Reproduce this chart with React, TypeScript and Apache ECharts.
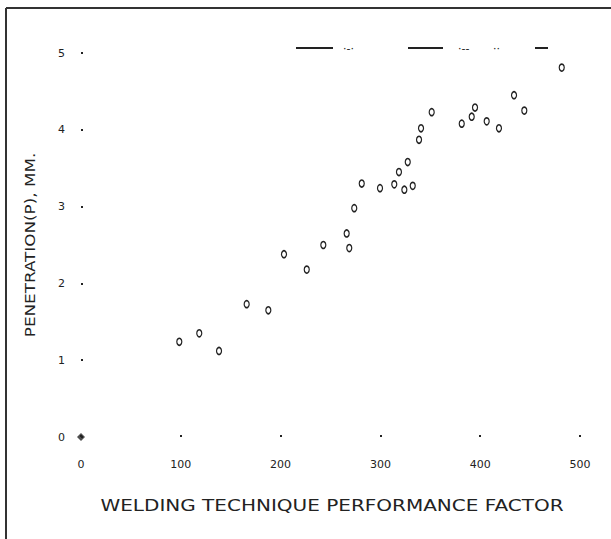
import React, { useEffect, useRef } from "react";
import * as echarts from "echarts";

const performanceFactor: number[] = [
  98.5, 118.5, 138.3, 166, 187.7, 203.4, 226.2, 242.8, 266.2, 268.8, 273.8, 281.3,
  299.6, 313.9, 318.6, 327.4, 324, 332.4, 338.7, 340.7, 351.4, 381.5, 391.5, 394.8,
  406.5, 418.8, 433.9, 444.2, 481.7,
];
const penetrationMM: number[] = [
  1.24, 1.35, 1.12, 1.73, 1.65, 2.38, 2.18, 2.5, 2.65, 2.46, 2.98, 3.3,
  3.24, 3.29, 3.45, 3.58, 3.22, 3.27, 3.87, 4.02, 4.23, 4.08, 4.17, 4.29,
  4.11, 4.02, 4.45, 4.25, 4.81,
];
const originMark: number[][] = [[0, 0]];
const xTicks: number[] = [0, 100, 200, 300, 400, 500];
const yTicks: number[] = [0, 1, 2, 3, 4, 5];
const xTitle = "WELDING TECHNIQUE PERFORMANCE FACTOR";
const yTitle = "PENETRATION(P), MM.";
const legendTexts: string[] = ["·-·", "·--", "··"];

export default function App() {
  const ref = useRef<HTMLDivElement>(null);
  useEffect(() => {
    if (!ref.current) return;
    const chart = echarts.init(ref.current, null, { renderer: "svg" });
    const font = "'DejaVu Sans', sans-serif";
    chart.setOption({
      animation: false,
      backgroundColor: "#ffffff",
      grid: { left: 81, right: 31, top: 53, bottom: 102, containLabel: false },
      xAxis: {
        type: "value",
        min: xTicks[0],
        max: xTicks[xTicks.length - 1],
        interval: 100,
        axisLine: { show: false },
        axisTick: { show: true, inside: true, length: 2, lineStyle: { color: "#222", width: 2 } },
        splitLine: { show: false },
        axisLabel: { color: "#222", fontSize: 11, fontFamily: font, margin: 22 },
      },
      yAxis: {
        type: "value",
        min: yTicks[0],
        max: yTicks[yTicks.length - 1],
        interval: 1,
        axisLine: { show: false },
        axisTick: { show: true, inside: true, length: 2, lineStyle: { color: "#222", width: 2 } },
        splitLine: { show: false },
        axisLabel: { color: "#222", fontSize: 11, fontFamily: font, margin: 16 },
      },
      series: [
        {
          type: "scatter",
          data: performanceFactor.map((x, i) => [x, penetrationMM[i]]),
          symbol: "circle",
          symbolSize: [5, 7],
          itemStyle: { color: "#ffffff", borderColor: "#222222", borderWidth: 1.4, opacity: 1 },
          z: 5,
        },
        {
          type: "scatter",
          data: originMark,
          symbol: "diamond",
          symbolSize: 8,
          itemStyle: { color: "#222" },
        },
      ],
      graphic: [
        { type: "line", shape: { x1: 6, y1: 8, x2: 611, y2: 8 }, style: { stroke: "#333", lineWidth: 2 } },
        { type: "line", shape: { x1: 6, y1: 8, x2: 6, y2: 539 }, style: { stroke: "#333", lineWidth: 2 } },
        { type: "line", shape: { x1: 296, y1: 48, x2: 333, y2: 48 }, style: { stroke: "#222", lineWidth: 2 } },
        { type: "text", x: 343, y: 43, style: { text: legendTexts[0], fill: "#222", fontSize: 11, fontFamily: font } },
        { type: "line", shape: { x1: 408, y1: 48, x2: 443, y2: 48 }, style: { stroke: "#222", lineWidth: 2 } },
        { type: "text", x: 458, y: 43, style: { text: legendTexts[1], fill: "#222", fontSize: 11, fontFamily: font } },
        { type: "text", x: 493, y: 43, style: { text: legendTexts[2], fill: "#222", fontSize: 11, fontFamily: font } },
        { type: "line", shape: { x1: 535, y1: 48, x2: 548, y2: 48 }, style: { stroke: "#222", lineWidth: 2 } },
        {
          type: "text",
          x: 332,
          y: 505,
          scaleX: 1.25,
          style: { text: xTitle, fill: "#222", fontSize: 16, fontFamily: font, align: "center", verticalAlign: "middle" },
        },
        {
          type: "text",
          x: 30,
          y: 245,
          rotation: Math.PI / 2,
          scaleX: 1.2,
          style: { text: yTitle, fill: "#222", fontSize: 14, fontFamily: font, align: "center", verticalAlign: "middle" },
        },
      ],
    });
    return () => chart.dispose();
  }, []);
  return <div ref={ref} style={{ width: 611, height: 539, position: "absolute", left: 0, top: 0 }} />;
}
